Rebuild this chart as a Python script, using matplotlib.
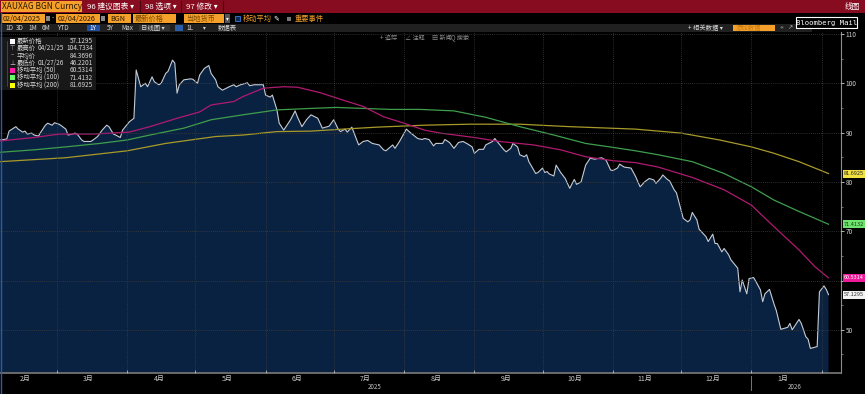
import numpy as np
import pandas as pd
import matplotlib
matplotlib.use("Agg")
import matplotlib.pyplot as plt
import matplotlib.dates as mdates
from matplotlib.patches import Rectangle
from matplotlib.ticker import FixedLocator, FixedFormatter, MultipleLocator

plt.rcParams['font.family'] = ['Noto Sans CJK SC', 'DejaVu Sans']

start = pd.Timestamp("2025-02-04")

# price, days after start
price_day = [0, 3, 4, 7, 8, 10, 11, 12, 14, 15,
             17, 18, 20, 21, 23, 24, 26, 27, 29, 30,
             32, 33, 34, 36, 37, 40, 41, 43, 45, 47,
             48, 50, 51, 53, 54, 57, 59, 60, 61, 62,
             64, 65, 67, 68, 70, 71, 73, 74, 76, 77,
             78, 79, 81, 84, 85, 87, 88, 90, 92, 93,
             95, 96, 98, 101, 103, 104, 106, 109, 110, 112,
             114, 116, 117, 119, 120, 122, 123, 125, 126, 128,
             130, 131, 133, 135, 137, 140, 142, 145, 147, 149,
             150, 152, 153, 155, 156, 158, 160, 162, 164, 167,
             169, 170, 173, 174, 176, 179, 181, 184, 186, 187,
             189, 191, 192, 195, 196, 198, 200, 202, 204, 206,
             208, 209, 211, 213, 214, 217, 218, 219, 222, 223,
             225, 226, 228, 229, 231, 232, 233, 236, 237, 239,
             240, 241, 242, 244, 245, 247, 249, 251, 253, 254,
             256, 257, 258, 260, 262, 265, 267, 269, 270, 272,
             273, 275, 278, 280, 282, 284, 286, 288, 289, 291,
             292, 294, 295, 297, 298, 300, 301, 303, 304, 305,
             307, 308, 311, 312, 314, 315, 316, 318, 319, 321,
             322, 325, 326, 327, 329, 330, 332, 333, 335, 336,
             337, 339, 341, 342, 344, 347, 348, 349, 352, 353,
             355, 356, 357, 360, 361, 363, 364, 365]
price_val = [88.5, 88.7, 90.3, 91.2, 90.7, 90.1, 90.3, 89.7, 89.9, 89.5,
             89.3, 90.1, 91.5, 91.9, 91.5, 92.0, 91.7, 91.4, 90.7, 89.5,
             89.7, 89.9, 89.7, 88.5, 88.2, 88.2, 88.5, 89.2, 90.5, 91.5,
             91.2, 89.7, 89.5, 89.0, 90.5, 92.2, 92.9, 102.7, 101.0, 99.3,
             100.0, 99.3, 101.3, 100.3, 99.7, 100.0, 102.0, 102.4, 104.7, 104.1,
             98.0, 99.7, 100.7, 100.9, 100.8, 100.0, 101.7, 103.0, 103.6, 102.0,
             100.7, 99.3, 98.6, 99.3, 99.7, 99.3, 99.7, 100.1, 99.5, 99.7,
             99.7, 99.7, 97.6, 97.2, 97.6, 94.6, 91.9, 90.5, 91.2, 92.6,
             94.4, 93.2, 91.2, 92.6, 93.6, 92.9, 90.9, 91.3, 92.6, 90.7,
             90.2, 90.7, 90.1, 91.1, 89.9, 87.5, 88.2, 88.4, 87.8, 87.5,
             86.5, 86.3, 87.5, 86.8, 88.2, 90.7, 89.9, 88.8, 88.6, 88.8,
             88.6, 87.3, 87.8, 87.8, 88.6, 88.0, 86.8, 88.0, 88.2, 87.7,
             87.1, 85.8, 86.6, 86.6, 87.5, 88.2, 88.8, 88.2, 86.5, 86.1,
             86.8, 87.8, 87.1, 85.5, 85.1, 85.5, 84.1, 81.7, 81.9, 82.8,
             81.9, 82.1, 81.6, 81.2, 83.4, 81.9, 80.7, 78.7, 80.5, 79.5,
             80.0, 81.7, 83.4, 84.8, 84.6, 84.9, 84.4, 82.4, 82.3, 82.8,
             83.6, 83.0, 82.8, 81.1, 79.0, 80.0, 80.7, 80.4, 79.7, 80.7,
             81.4, 80.5, 80.2, 78.4, 77.8, 74.3, 72.6, 71.9, 72.3, 73.8,
             72.3, 70.4, 68.9, 67.9, 69.4, 67.5, 67.5, 65.8, 66.5, 65.2,
             64.2, 62.5, 57.7, 60.1, 57.3, 60.4, 60.6, 59.8, 58.1, 55.7,
             57.3, 58.2, 55.2, 53.9, 50.1, 50.5, 51.3, 50.0, 52.1, 51.3,
             48.6, 48.1, 46.22, 46.6, 57.7, 58.9, 58.2, 57.13]

ma50_day = [0, 15, 26, 41, 57, 66, 78, 88, 93, 103, 107, 116, 125, 131, 141, 151, 160, 169,
            178, 187, 194, 209, 220, 235, 247, 258, 270, 280, 290, 305, 319, 331, 341, 352, 359, 365]
ma50_val = [88.3, 89.0, 89.7, 89.7, 90.1, 91.2, 92.9, 94.2, 95.6, 96.3, 97.3, 99.0, 99.3, 99.2, 98.1, 96.6, 95.3, 93.2,
            91.9, 90.5, 89.9, 89.0, 88.2, 87.5, 86.5, 85.1, 84.3, 83.9, 83.0, 80.9, 78.4, 75.3, 70.9, 66.2, 62.8, 60.53]
ma100_day = [0, 15, 29, 44, 56, 66, 81, 93, 107, 122, 137, 148, 160, 172, 185,
             200, 214, 229, 244, 258, 270, 280, 290, 305, 319, 331, 341, 352, 365]
ma100_val = [86.0, 86.5, 87.1, 87.8, 88.5, 89.5, 90.9, 92.6, 93.6, 94.6, 94.9, 95.1, 94.9, 94.7, 94.7,
             94.4, 93.1, 91.2, 89.5, 87.8, 87.0, 86.3, 85.5, 84.1, 81.7, 79.0, 76.3, 74.0, 71.41]
ma200_day = [0, 29, 56, 73, 95, 107, 122, 137, 151, 166, 187, 207, 229, 251, 280, 300, 317, 331, 341, 352, 365]
ma200_val = [84.1, 84.9, 86.3, 87.8, 89.2, 89.5, 90.2, 90.3, 90.7, 91.1, 91.5, 91.7, 91.7, 91.2,
             90.7, 89.9, 88.5, 87.1, 85.8, 84.1, 81.69]

month_labels = ['2月', '3月', '4月', '5月', '6月', '7月', '8月', '9月', '10月', '11月', '12月', '1月']
y_ticks = [50, 60, 70, 80, 90, 100, 110]
y_tick_labels = ['50', '', '70', '80', '90', '100', '110']  # 60 sits under the MA50 flag

legend_rows = [("最新价格", "", "57.1295"),
               ("最高价", "04/21/25", "104.7334"),
               ("平均价", "", "84.3696"),
               ("最低价", "01/27/26", "46.2201"),
               ("移动平均 (50)", "", "60.5314"),
               ("移动平均 (100)", "", "71.4132"),
               ("移动平均 (200)", "", "81.6925")]

MAG, GRN, YEL = '#b01a70', '#3f9e4c', '#a89a2a'


def to_dates(days):
    return start + pd.to_timedelta(days, unit="D")


W, H = 865, 394
fig = plt.figure(figsize=(W / 100, H / 100), dpi=100, facecolor='black')

# main chart, pixel box x 0..841, y 31.5..373
ax = fig.add_axes([0, 1 - 373 / H, 841 / W, (373 - 31.5) / H])
ax.set_facecolor('black')

d = to_dates(price_day)
ax.fill_between(d, price_val, 0, color='#0a2241', lw=0)
ax.plot(d, price_val, color='#c6cbd3', lw=0.8)
ax.plot(to_dates(ma200_day), ma200_val, color=YEL, lw=0.9)
ax.plot(to_dates(ma100_day), ma100_val, color=GRN, lw=0.9)
ax.plot(to_dates(ma50_day), ma50_val, color=MAG, lw=0.9)

ax.set_ylim(41.24, 110.5)
ax.set_xlim(start, start + pd.Timedelta(days=370.5))

ax.yaxis.tick_right()
ax.yaxis.set_major_locator(FixedLocator(y_ticks))
ax.yaxis.set_major_formatter(FixedFormatter(y_tick_labels))
ax.yaxis.set_minor_locator(MultipleLocator(5))
ax.tick_params(axis='y', which='major', colors='#d0d0d0', labelsize=4.6, length=2.5, width=0.6, pad=1)
ax.tick_params(axis='y', which='minor', colors='#9a9a9a', length=1.5, width=0.5)

ax.xaxis.set_major_locator(mdates.MonthLocator())
ax.xaxis.set_major_formatter(FixedFormatter([''] * 20))
month_mid = pd.date_range("2025-02-01", periods=12, freq="MS") + pd.Timedelta(days=14)
ax.xaxis.set_minor_locator(FixedLocator(mdates.date2num(month_mid)))
ax.xaxis.set_minor_formatter(FixedFormatter(month_labels))
ax.tick_params(axis='x', which='major', direction='in', length=2, width=0.6, colors='#bbbbbb')
ax.tick_params(axis='x', which='minor', length=0, labelsize=5, labelcolor='#c8c8c8', pad=1.5)

ax.grid(True, which='major', color='#3e3e3e', lw=0.6, ls=(0, (1, 1.5)))
ax.set_axisbelow(False)
for s in ['left', 'top']:
    ax.spines[s].set_visible(False)
ax.spines['right'].set_color('#8c8c8c')
ax.spines['right'].set_linewidth(0.8)
ax.spines['bottom'].set_color('#7a7a7a')
ax.spines['bottom'].set_linewidth(1.2)

# overlay for the terminal chrome, in pixel coords
ov = fig.add_axes([0, 0, 1, 1])
ov.set_xlim(0, W)
ov.set_ylim(H, 0)
ov.axis('off')
ov.patch.set_alpha(0)


def rect(x, y, w, h, fc, ec='none', lw=0):
    ov.add_patch(Rectangle((x, y), w, h, fc=fc, ec=ec, lw=lw))


def txt(x, y, s, c='white', size=5.2, ha='left', **kw):
    ov.text(x, y, s, color=c, fontsize=size, ha=ha, va='center', **kw)


ORG = '#f5a02a'

# top red bar
rect(0, 0, W, 12.5, '#880c1f')
rect(1, 1, 81, 11, ORG)
txt(2, 6.5, "XAUXAG BGN Curncy", c='#2b1800', size=6)
for x0 in [140, 181, 223]:
    ov.plot([x0, x0], [1, 12], color='#4a0510', lw=0.8)
txt(87, 6.5, "96 建议图表 ▾", size=5.6)
txt(145, 6.5, "98 选项 ▾", size=5.6)
txt(186, 6.5, "97 修改 ▾", size=5.6)
txt(845, 6.5, "线图", size=5.6)

# second row of inputs
rect(1, 14, 44, 9, ORG)
txt(2.5, 18.5, "02/04/2025", c='#2b1800', size=5.2)
rect(46, 16, 4, 5, '#8a8a8a')
txt(51.5, 18.5, "-", c='#cccccc', size=5)
rect(56, 14, 44, 9, ORG)
txt(57.5, 18.5, "02/04/2026", c='#2b1800', size=5.2)
rect(101, 16, 4, 5, '#8a8a8a')
rect(108, 14, 23, 9, ORG)
txt(110, 18.5, "BGN", c='#2b1800', size=5.2)
rect(133, 14, 43, 9, ORG)
txt(135, 18.5, "最新价格", c='#7a4a00', size=5.2)
rect(184, 14, 40, 9, ORG)
txt(186, 18.5, "当地货币", c='#7a4a00', size=5.2)
rect(225, 14, 5, 9, '#555555')
txt(227.5, 18.5, "▾", c='white', size=4, ha='center')
rect(235, 16, 5, 5, '#0d2a55', ec='#3b7dd8', lw=0.6)
txt(243, 18.5, "移动平均", c=ORG, size=5.2)
txt(273, 18.5, "✎", c='white', size=5)
rect(287, 16.5, 4, 4, '#777777')
txt(295, 18.5, "重要事件", c=ORG, size=5.2)

# third row: periods
rect(0, 24, 812, 7.5, '#202020')
for lab, x0 in [("1D", 5), ("3D", 16), ("1M", 28), ("6M", 42), ("YTD", 57), ("5Y", 107), ("Max", 121)]:
    txt(x0, 27.8, lab, c='#d8d8d8', size=4.6)
rect(87, 24.5, 13, 6.5, '#1f4fa0')
txt(89, 27.8, "1Y", c='white', size=4.6)
rect(139, 24.5, 31, 6.5, '#333333')
txt(141, 27.8, "日线图 ▾", c='#d8d8d8', size=4.6)
rect(175, 24.5, 8, 6.5, '#2a5ea8')
txt(186, 27.8, "1L", c='#d8d8d8', size=4.6)
txt(203, 27.8, "▾", c='#d8d8d8', size=4)
txt(218, 27.8, "数据表", c='#d8d8d8', size=4.6)
txt(688, 27.8, "+ 相关数据 ▾", c='#d8d8d8', size=4.6)
rect(733, 24.5, 42, 6.5, ORG)
txt(736, 27.8, "添加数据", c='#c77b10', size=4.6)
txt(780, 27.8, "«  ↗", c='#bbbbbb', size=4.6, family=['DejaVu Sans'])

rect(796, 17, 61, 11, 'black', ec='white', lw=0.8)
txt(826.5, 22.5, "Bloomberg Mail", c='white', size=5.2, ha='center', family='DejaVu Sans Mono')

# chart toolbar
for lab, x0 in [("+ 追踪", 380), ("∠ 注释", 405), ("▤ 新闻", 432), ("Q 搜索", 451)]:
    txt(x0, 37.5, lab, c='#8a8a8a', size=4.4)

# legend box
rect(0, 37, 96, 53, '#181818')
ov.plot([7, 7], [41, 86], color='#555555', lw=0.5)
sw_colors = ['white', None, None, None, '#ff1aa8', '#66ff66', '#ffff00']
for i, (lab, dt, val) in enumerate(legend_rows):
    yy = 41 + i * 7.35
    if sw_colors[i] is not None:
        rect(10, yy - 2.5, 5, 5, sw_colors[i])
    else:
        sym = ["", "⊤", "–", "⊥"][i]
        txt(12.5, yy, sym, c='#bbbbbb', size=4.4, ha='center')
    txt(17, yy, lab, c='#d8d8d8', size=4.6)
    if dt:
        txt(38, yy, dt, c='#d8d8d8', size=4.6)
    txt(93, yy, val, c='#d8d8d8', size=4.6, ha='right')

# right side value flags
for val, yy, fc, tc in [("81.6925", 173.6, '#f0e040', '#222222'),
                        ("71.4132", 224.2, '#6ee46e', '#1a3a1a'),
                        ("60.5314", 277.9, '#ee1a9a', '#ffffff'),
                        ("57.1295", 294.6, '#f2f2f2', '#333333')]:
    rect(842.5, yy - 4, 22.5, 8, fc)
    txt(843.5, yy, val, c=tc, size=4.0)

# year labels and separator
txt(375, 387, "2025", c='#c8c8c8', size=4.4, ha='center')
txt(795, 387, "2026", c='#c8c8c8', size=4.4, ha='center')
ov.plot([751, 751], [376, 390], color='#8a8a8a', lw=0.6)

# left window border
ov.plot([0.6, 0.6], [12.5, H], color='#2a5caa', lw=1)

fig.savefig("out.png", dpi=100, facecolor='black')
